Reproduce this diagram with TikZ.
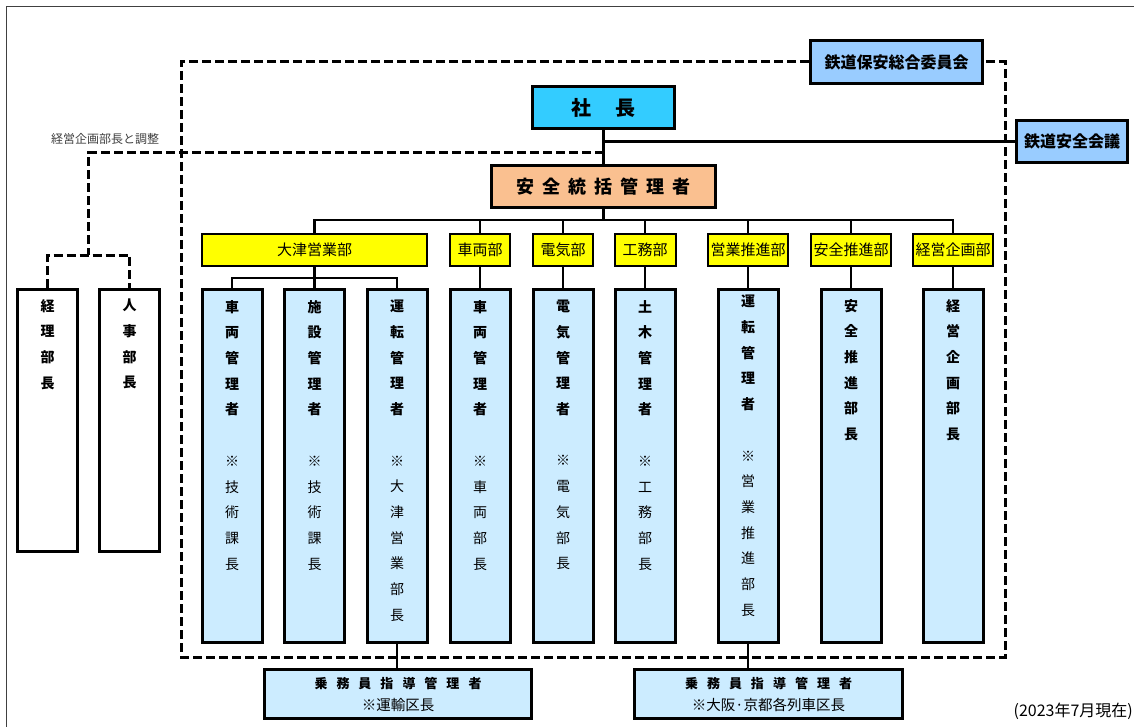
\documentclass[tikz,border=0pt]{standalone}
\usepackage{fontspec}
\newfontfamily\jp{Noto Sans CJK JP}
\newcommand\R[1]{{\mdseries #1}}
\definecolor{cyanbox}{HTML}{33CCFF}
\definecolor{skybox}{HTML}{99CCFF}
\definecolor{peach}{HTML}{FAC090}
\definecolor{pale}{HTML}{CCECFF}
\definecolor{yel}{HTML}{FFFF00}
\tikzset{
  box/.style={draw, line width=3pt, inner sep=0pt},
  ybox/.style={draw, line width=2pt, fill=yel, inner sep=0pt, minimum height=32pt, font=\jp\fontsize{15}{18}\selectfont},
  tall/.style={box, fill=pale, minimum width=60pt, minimum height=353pt},
  wtall/.style={box, fill=white, minimum width=60pt, minimum height=262pt},
  conn/.style={line width=2.5pt},
  dsh/.style={line width=3pt, dash pattern=on 9pt off 4pt},
  vt/.style={anchor=north, align=center, inner sep=0pt, font=\jp\bfseries\fontsize{14}{25.7}\selectfont},
  frame/.style={line width=1.5pt, black!75},
  bigt/.style={font=\jp\bfseries\fontsize{16}{18}\selectfont},
}
\begin{document}
\begin{tikzpicture}[x=1pt,y=-1pt]
\useasboundingbox (0,0) rectangle (1134,727);
\draw[frame] (1134,6.5) -- (6.5,6.5) -- (6.5,727);

% dashed frame
\coordinate (ftl) at (181,62);
\coordinate (fbl) at (181,657);
\coordinate (fbr) at (1005,657);
\coordinate (ftr) at (1005,62);
\coordinate (dj) at (603.5,153);
\coordinate (dk) at (88,153);
\coordinate (dl) at (88,255);
\coordinate (bus) at (603.5,220);
\coordinate (sub) at (314.5,278);

% top boxes
\node[box, fill=skybox, minimum width=172pt, minimum height=43pt, bigt] (hoan) at (896.5,62) {鉄道保安総合委員会};
\node[box, fill=cyanbox, minimum width=142pt, minimum height=42pt, font=\jp\bfseries\fontsize{20}{22}\selectfont] (shacho) at (603.5,107.5) {社\hspace{24pt}長};
\node[box, fill=skybox, minimum width=111pt, minimum height=42pt, bigt] (kaigi) at (1072,141.5) {鉄道安全会議};
\node[box, fill=peach, minimum width=224pt, minimum height=42pt, font=\jp\bfseries\fontsize{18}{20}\selectfont] (anzen) at (603.5,186.5) {安\hspace{8pt}全\hspace{8pt}統\hspace{8pt}括\hspace{8pt}管\hspace{8pt}理\hspace{8pt}者};

\draw[dsh] (hoan.west) -- (ftl) -- (fbl) -- (fbr) -- (ftr) -- (hoan.east);
\draw[dsh] (dj) -- (dk) -- (dl);

\draw[conn] (shacho.south) -- (anzen.north);
\draw[conn] (shacho.south |- kaigi.west) -- (kaigi.west);

% departments
\node[ybox, minimum width=225pt] (otsu) at (314.5,250) {大津営業部};
\node[ybox, minimum width=60pt] (ysha) at (480,250) {車両部};
\node[ybox, minimum width=60pt] (yden) at (563,250) {電気部};
\node[ybox, minimum width=61pt] (ykom) at (645,250) {工務部};
\node[ybox, minimum width=80pt] (yeig) at (748,250) {営業推進部};
\node[ybox, minimum width=80pt] (yanz) at (851,250) {安全推進部};
\node[ybox, minimum width=80pt] (ykei) at (953,250) {経営企画部};

\draw[conn] (anzen.south) -- (bus);
\draw[conn] (otsu.north) -- (otsu.north |- bus) -- (ykei.north |- bus) -- (ykei.north);
\foreach \d in {ysha,yden,ykom,yeig,yanz} \draw[conn] (\d.north) -- (\d.north |- bus);

% tall boxes
\node[tall] (v1) at (232,466) {};
\node[tall] (v2) at (314.5,466) {};
\node[tall] (v3) at (397,466) {};
\node[tall] (v4) at (480,466) {};
\node[tall] (v5) at (563,466) {};
\node[tall] (v6) at (645,466) {};
\node[tall] (v7) at (748,466) {};
\node[tall] (v8) at (851,466) {};
\node[tall] (v9) at (953,466) {};

\draw[conn] (otsu.south) -- (v2.north);
\draw[conn] (v1.north) -- (v1.north |- sub) -- (v3.north |- sub) -- (v3.north);
\draw[conn] (ysha.south) -- (v4.north);
\draw[conn] (yden.south) -- (v5.north);
\draw[conn] (ykom.south) -- (v6.north);
\draw[conn] (yeig.south) -- (v7.north);
\draw[conn] (yanz.south) -- (v8.north);
\draw[conn] (ykei.south) -- (v9.north);

\node[vt] (t1) at (232,300) {車\\両\\管\\理\\者\\[25.7pt]\R{※}\\\R{技}\\\R{術}\\\R{課}\\\R{長}};
\node[vt] (t2) at (314.5,300) {施\\設\\管\\理\\者\\[25.7pt]\R{※}\\\R{技}\\\R{術}\\\R{課}\\\R{長}};
\node[vt] (t3) at (397,300) {運\\転\\管\\理\\者\\[25.7pt]\R{※}\\\R{大}\\\R{津}\\\R{営}\\\R{業}\\\R{部}\\\R{長}};
\node[vt] (t4) at (480,300) {車\\両\\管\\理\\者\\[25.7pt]\R{※}\\\R{車}\\\R{両}\\\R{部}\\\R{長}};
\node[vt] (t5) at (563,300) {電\\気\\管\\理\\者\\[25.7pt]\R{※}\\\R{電}\\\R{気}\\\R{部}\\\R{長}};
\node[vt] (t6) at (645,300) {土\\木\\管\\理\\者\\[25.7pt]\R{※}\\\R{工}\\\R{務}\\\R{部}\\\R{長}};
\node[vt] (t7) at (748,295) {運\\転\\管\\理\\者\\[25.7pt]\R{※}\\\R{営}\\\R{業}\\\R{推}\\\R{進}\\\R{部}\\\R{長}};
\node[vt] (t8) at (851,299) {安\\全\\推\\進\\部\\長};
\node[vt] (t9) at (953,299) {経\\営\\企\\画\\部\\長};

% left boxes
\node[wtall] (keiri) at (47.5,420.5) {};
\node[wtall] (jinji) at (129.5,420.5) {};
\node[vt] (t10) at (47.5,299) {経\\理\\部\\長};
\node[vt] (t11) at (129.5,299) {人\\事\\部\\長};
\draw[dsh] (keiri.north) -- (keiri.north |- dl) -- (jinji.north |- dl) -- (jinji.north);

\node[font=\jp\fontsize{12}{14}\selectfont, text=black!75, inner sep=0pt] (note) at (105,139) {経営企画部長と調整};

% bottom boxes
\node[box, fill=pale, minimum width=267pt, minimum height=49pt, align=center, font=\jp\fontsize{14.5}{22}\selectfont] (jom1) at (398,694)
  {{\bfseries\fontsize{13}{22}\selectfont 乗\hspace{9pt}務\hspace{9pt}員\hspace{9pt}指\hspace{9pt}導\hspace{9pt}管\hspace{9pt}理\hspace{9pt}者}\\※運輸区長};
\node[box, fill=pale, minimum width=268pt, minimum height=49pt, align=center, font=\jp\fontsize{14.5}{22}\selectfont] (jom2) at (768.5,694)
  {{\bfseries\fontsize{13}{22}\selectfont 乗\hspace{9pt}務\hspace{9pt}員\hspace{9pt}指\hspace{9pt}導\hspace{9pt}管\hspace{9pt}理\hspace{9pt}者}\\※大阪·京都各列車区長};
\draw[conn] (v3.south) -- (v3.south |- jom1.north);
\draw[conn] (v7.south) -- (v7.south |- jom2.north);

\node[anchor=east, inner sep=0pt, font=\jp\fontsize{16}{18}\selectfont] (date) at (1133,711) {(2023年7月現在)};
\end{tikzpicture}
\end{document}
